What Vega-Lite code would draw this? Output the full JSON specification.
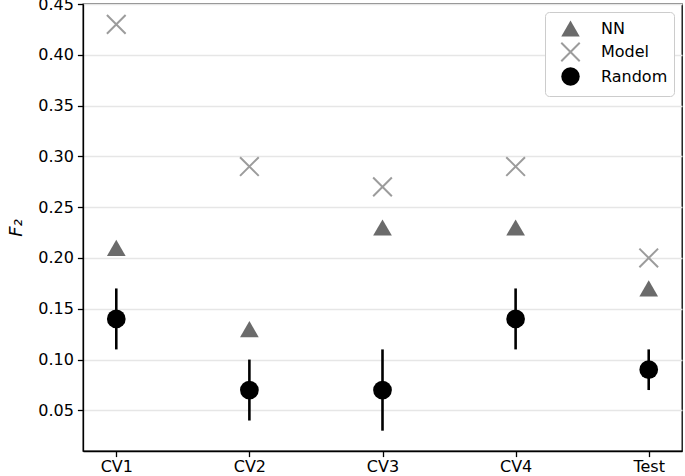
{
  "$schema": "https://vega.github.io/schema/vega-lite/v6.json",
  "width": 599,
  "height": 447,
  "autosize": {"type": "none"},
  "padding": {"left": 83, "top": 4, "right": 3, "bottom": 25},
  "background": "white",
  "config": {
    "font": "DejaVu Sans",
    "view": {"stroke": "black", "strokeWidth": 1.3},
    "axis": {
      "domainColor": "black",
      "domainWidth": 1.3,
      "tickColor": "black",
      "tickWidth": 1.3,
      "tickSize": 5.6,
      "labelFontSize": 16,
      "labelColor": "black",
      "labelPadding": 4,
      "titleFontSize": 18,
      "titleColor": "black",
      "titleFontWeight": "normal"
    }
  },
  "datasets": {
    "points": [
      {"cat": "CV1", "series": "NN", "value": 0.21},
      {"cat": "CV2", "series": "NN", "value": 0.13},
      {"cat": "CV3", "series": "NN", "value": 0.23},
      {"cat": "CV4", "series": "NN", "value": 0.23},
      {"cat": "Test", "series": "NN", "value": 0.17},
      {"cat": "CV1", "series": "Model", "value": 0.43},
      {"cat": "CV2", "series": "Model", "value": 0.29},
      {"cat": "CV3", "series": "Model", "value": 0.27},
      {"cat": "CV4", "series": "Model", "value": 0.29},
      {"cat": "Test", "series": "Model", "value": 0.20},
      {"cat": "CV1", "series": "Random", "value": 0.14},
      {"cat": "CV2", "series": "Random", "value": 0.07},
      {"cat": "CV3", "series": "Random", "value": 0.07},
      {"cat": "CV4", "series": "Random", "value": 0.14},
      {"cat": "Test", "series": "Random", "value": 0.09}
    ],
    "errors": [
      {"cat": "CV1", "lo": 0.11, "hi": 0.17},
      {"cat": "CV2", "lo": 0.04, "hi": 0.10},
      {"cat": "CV3", "lo": 0.03, "hi": 0.11},
      {"cat": "CV4", "lo": 0.11, "hi": 0.17},
      {"cat": "Test", "lo": 0.07, "hi": 0.11}
    ]
  },
  "encoding": {
    "x": {
      "field": "cat",
      "type": "nominal",
      "sort": ["CV1", "CV2", "CV3", "CV4", "Test"],
      "scale": {"type": "point", "padding": 0.25, "domain": ["CV1", "CV2", "CV3", "CV4", "Test"]},
      "axis": {"title": null, "labelAngle": 0, "grid": false, "labelPadding": 2}
    }
  },
  "layer": [
    {
      "data": {"name": "errors"},
      "mark": {"type": "rule", "color": "black", "strokeWidth": 2.6},
      "encoding": {
        "y": {
          "field": "lo",
          "type": "quantitative",
          "scale": {"domain": [0.01, 0.45], "nice": false, "zero": false},
          "axis": {
            "title": "F₂",
            "titleFontStyle": "italic",
            "titlePadding": 12,
            "values": [0.05, 0.1, 0.15, 0.2, 0.25, 0.3, 0.35, 0.4, 0.45],
            "format": ".2f",
            "grid": true,
            "gridColor": "#e6e6e6",
            "gridWidth": 1.3
          }
        },
        "y2": {"field": "hi"}
      }
    },
    {
      "data": {"name": "points"},
      "mark": {"type": "point", "filled": true, "size": 350, "strokeWidth": 2, "opacity": 1},
      "encoding": {
        "y": {"field": "value", "type": "quantitative"},
        "shape": {
          "field": "series",
          "type": "nominal",
          "scale": {"domain": ["NN", "Model", "Random"], "range": ["triangle-up", "M-1,-1L1,1M-1,1L1,-1", "circle"]},
          "legend": {
            "title": null,
            "orient": "none",
            "legendX": 462,
            "legendY": 8,
            "strokeColor": "#cccccc",
            "fillColor": "white",
            "cornerRadius": 4,
            "padding": 6,
            "symbolOffset": 9,
            "labelFontSize": 16,
            "labelColor": "black",
            "labelOffset": 20,
            "symbolSize": 340,
            "symbolStrokeWidth": 2,
            "rowPadding": -2.5
          }
        },
        "fill": {
          "field": "series",
          "type": "nominal",
          "scale": {"domain": ["NN", "Model", "Random"], "range": ["#6b6b6b", "transparent", "#000000"]},
          "legend": null
        },
        "stroke": {
          "field": "series",
          "type": "nominal",
          "scale": {"domain": ["NN", "Model", "Random"], "range": ["transparent", "#9c9c9c", "transparent"]},
          "legend": null
        }
      }
    }
  ]
}
